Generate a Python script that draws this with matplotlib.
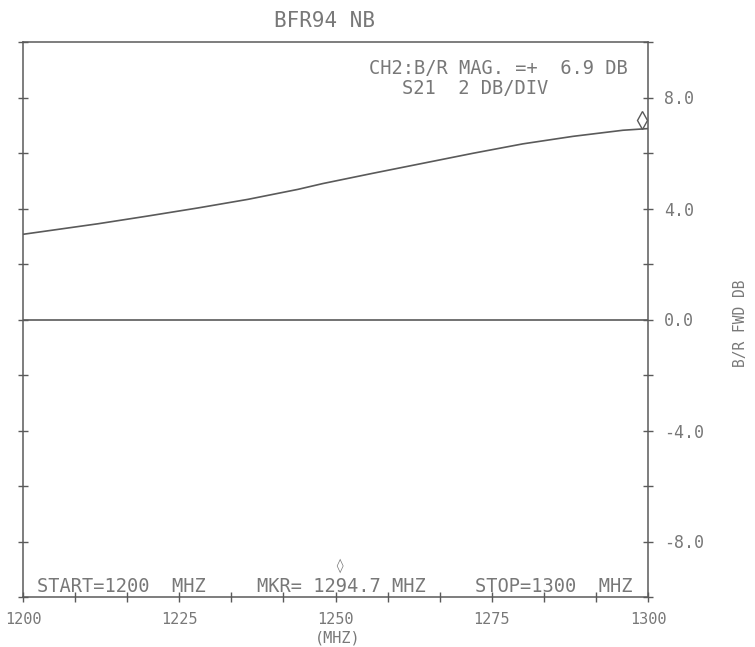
import numpy as np
import matplotlib.pyplot as plt

freq = [1200, 1212, 1220, 1228, 1236, 1244, 1248, 1256, 1264, 1272,
        1280, 1288, 1292, 1296, 1300]
s21_db = [3.07, 3.45, 3.73, 4.02, 4.33, 4.69, 4.90, 5.27, 5.63, 5.99,
          6.33, 6.60, 6.71, 6.82, 6.88]

# marcador y linea de referencia
mkr_freq = [1299.0]
mkr_db = [7.2]
ref_db = 0.0

# ejes
xticks = np.linspace(1200, 1300, 13)
xlabels = ['1200', '', '', '1225', '', '', '1250', '', '', '1275', '', '', '1300']
yticks = [-10, -8, -6, -4, -2, 0, 2, 4, 6, 8, 10]
ylabels = ['', '-8.0', '', '-4.0', '', '0.0', '', '4.0', '', '8.0', '']

tinta = '#5a5a5a'
texto = '#787878'
plt.rcParams['font.family'] = ['DejaVu Sans Mono', 'DejaVu Sans']

fig = plt.figure(figsize=(7.55, 6.47), dpi=100)
ax = fig.add_axes([23 / 755, 50 / 647, 625 / 755, 555 / 647])

ax.plot(freq, s21_db, color=tinta, lw=1.2)
ax.axhline(ref_db, color=tinta, lw=1.2)
ax.plot(mkr_freq, mkr_db, marker='d', ms=9, mfc='none', mec=tinta, mew=1.0, ls='none')

ax.set_xlim(1200, 1300)
ax.set_ylim(-10, 10)
ax.set_xticks(xticks)
ax.set_xticklabels(xlabels)
ax.set_yticks(yticks)
ax.set_yticklabels(ylabels)

for s in ax.spines.values():
    s.set_color(tinta)
    s.set_linewidth(1.1)

ax.tick_params(axis='x', direction='inout', length=7, width=1.0, color=tinta,
               labelcolor=texto, labelsize=11, pad=7)
ax.tick_params(axis='y', direction='inout', length=7, width=1.0, color=tinta,
               labelcolor=texto, labelsize=12, pad=8,
               left=True, right=True, labelleft=False, labelright=True)

# textos del plotter
fig.text(324 / 755, 1 - 21 / 647, 'BFR94 NB', ha='center', va='center',
         fontsize=15, color=texto)
fig.text(628 / 755, 1 - 68 / 647, 'CH2:B/R MAG. =+  6.9 DB', ha='right', va='center',
         fontsize=13.5, color=texto)
fig.text(402 / 755, 1 - 88 / 647, 'S21  2 DB/DIV', ha='left', va='center',
         fontsize=13.5, color=texto)

fig.text(37 / 755, 1 - 586 / 647, 'START=1200  MHZ', ha='left', va='center',
         fontsize=13.5, color=texto)
fig.text(257 / 755, 1 - 586 / 647, 'MKR= 1294.7 MHZ', ha='left', va='center',
         fontsize=13.5, color=texto)
fig.text(475 / 755, 1 - 586 / 647, 'STOP=1300  MHZ', ha='left', va='center',
         fontsize=13.5, color=texto)
fig.text(339 / 755, 1 - 566 / 647, '\u25ca', ha='center', va='center',
         fontsize=10, color=texto)

fig.text(338 / 755, 1 - 638 / 647, '(MHZ)', ha='center', va='center',
         fontsize=11, color=texto)
fig.text(741 / 755, 1 - 323 / 647, 'B/R FWD DB', ha='center', va='center',
         rotation=90, fontsize=10.5, color=texto)

plt.savefig('out.png', dpi=100)
